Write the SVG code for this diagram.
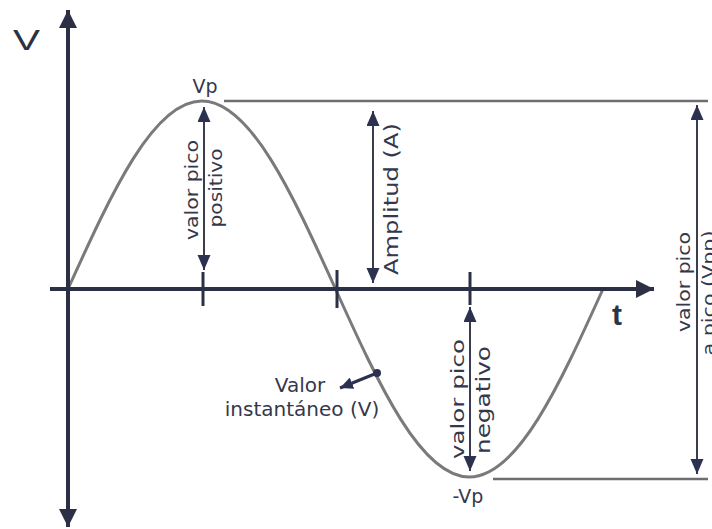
<svg xmlns="http://www.w3.org/2000/svg" width="712" height="529" viewBox="0 0 712 529">
  <style>
    .axis { stroke: #2c3045; stroke-width: 4; fill: none; }
    .tick { stroke: #2c3045; stroke-width: 3; fill: none; }
    .dim { stroke: #3a3d50; stroke-width: 2; fill: none; }
    .ref { stroke: #6e6e72; stroke-width: 2.5; fill: none; }
    .wave { stroke: #7a7a7c; stroke-width: 3; fill: none; }
    .lbl { font-family: "DejaVu Sans", "Liberation Sans", sans-serif; fill: #35384a; }
  </style>
  <defs>
    <marker id="ah" markerUnits="userSpaceOnUse" markerWidth="16" markerHeight="14" refX="15" refY="6.5" orient="auto-start-reverse" viewBox="0 0 16 14">
      <path d="M0,0 L15,6.5 L0,13 z" fill="#2c3150"/>
    </marker>
    <marker id="axh" markerUnits="userSpaceOnUse" markerWidth="19" markerHeight="18" refX="18" refY="9" orient="auto-start-reverse" viewBox="0 0 19 18">
      <path d="M0,0 L18,9 L0,18 z" fill="#2c3045"/>
    </marker>
    <marker id="sh" markerUnits="userSpaceOnUse" markerWidth="14" markerHeight="12" refX="13" refY="6" orient="auto" viewBox="0 0 14 12">
      <path d="M0,0 L13,6 L0,12 z" fill="#2c3150"/>
    </marker>
  </defs>

  <g id="wave">
    <path class="wave" d="M68,289 C111.62,192.69 153.40,101 201.75,101 C250.10,101 291.88,192.69 335.5,289 C379.12,385.31 420.90,477 469.25,477 C517.60,477 559.38,385.31 603,289"/>
  </g>

  <g id="connectors">
    <line class="ref" x1="224" y1="101" x2="708" y2="101"/>
    <line class="ref" x1="493" y1="479" x2="708" y2="479"/>
    <line class="axis" x1="68" y1="527" x2="68" y2="10" marker-start="url(#axh)" marker-end="url(#axh)"/>
    <line class="axis" x1="50" y1="289" x2="654" y2="289" marker-end="url(#axh)"/>
    <line class="tick" x1="203" y1="272" x2="203" y2="306"/>
    <line class="tick" x1="337" y1="270" x2="337" y2="308"/>
    <line class="tick" x1="470" y1="272" x2="470" y2="305"/>
    <line class="dim" x1="204" y1="107" x2="204" y2="270" marker-start="url(#ah)" marker-end="url(#ah)"/>
    <line class="dim" x1="373" y1="111" x2="373" y2="283" marker-start="url(#ah)" marker-end="url(#ah)"/>
    <line class="dim" x1="470" y1="307" x2="470" y2="471" marker-start="url(#ah)" marker-end="url(#ah)"/>
    <line class="dim" x1="697" y1="105" x2="697" y2="474" marker-start="url(#ah)" marker-end="url(#ah)"/>
    <line x1="377" y1="373" x2="340" y2="388" stroke="#2c3150" stroke-width="3" marker-end="url(#sh)"/>
    <circle cx="377" cy="373" r="4" fill="#2c3150"/>
  </g>

  <g id="axis-v-label">
    <text x="13" y="50" font-family="Liberation Sans, sans-serif" font-size="30" textLength="27" lengthAdjust="spacingAndGlyphs" fill="#2c3045">V</text>
  </g>
  <g id="axis-t-label">
    <text x="612" y="325" font-family="Liberation Sans, sans-serif" font-weight="bold" font-size="30" fill="#2c3348">t</text>
  </g>
  <g id="vp-label">
    <text class="lbl" x="205" y="93" font-size="19" text-anchor="middle">Vp</text>
  </g>
  <g id="neg-vp-label">
    <text class="lbl" x="468" y="503" font-size="19" text-anchor="middle">-Vp</text>
  </g>
  <g id="pos-peak-label">
    <text class="lbl" x="198" y="190" font-size="18" text-anchor="middle" textLength="100" lengthAdjust="spacingAndGlyphs" transform="rotate(-90 198 190)">valor pico</text>
    <text class="lbl" x="222" y="188" font-size="18" text-anchor="middle" textLength="79" lengthAdjust="spacingAndGlyphs" transform="rotate(-90 222 188)">positivo</text>
  </g>
  <g id="amplitude-label">
    <text class="lbl" x="398" y="199" font-size="19" text-anchor="middle" textLength="152" lengthAdjust="spacingAndGlyphs" transform="rotate(-90 398 199)">Amplitud  (A)</text>
  </g>
  <g id="neg-peak-label">
    <text class="lbl" x="464" y="399" font-size="18" text-anchor="middle" textLength="120" lengthAdjust="spacingAndGlyphs" transform="rotate(-90 464 399)">valor pico</text>
    <text class="lbl" x="490" y="400" font-size="19" text-anchor="middle" textLength="108" lengthAdjust="spacingAndGlyphs" transform="rotate(-90 490 400)">negativo</text>
  </g>
  <g id="pp-label">
    <text class="lbl" x="690" y="282" font-size="18" text-anchor="middle" textLength="100" lengthAdjust="spacingAndGlyphs" transform="rotate(-90 690 282)">valor pico</text>
    <text class="lbl" x="715" y="293" font-size="18" text-anchor="middle" textLength="125" lengthAdjust="spacingAndGlyphs" transform="rotate(-90 715 293)">a pico (Vpp)</text>
  </g>
  <g id="instant-label">
    <text class="lbl" x="300" y="392" font-size="20" text-anchor="middle">Valor</text>
    <text class="lbl" x="302" y="416" font-size="20" text-anchor="middle">instantáneo (V)</text>
  </g>
</svg>
